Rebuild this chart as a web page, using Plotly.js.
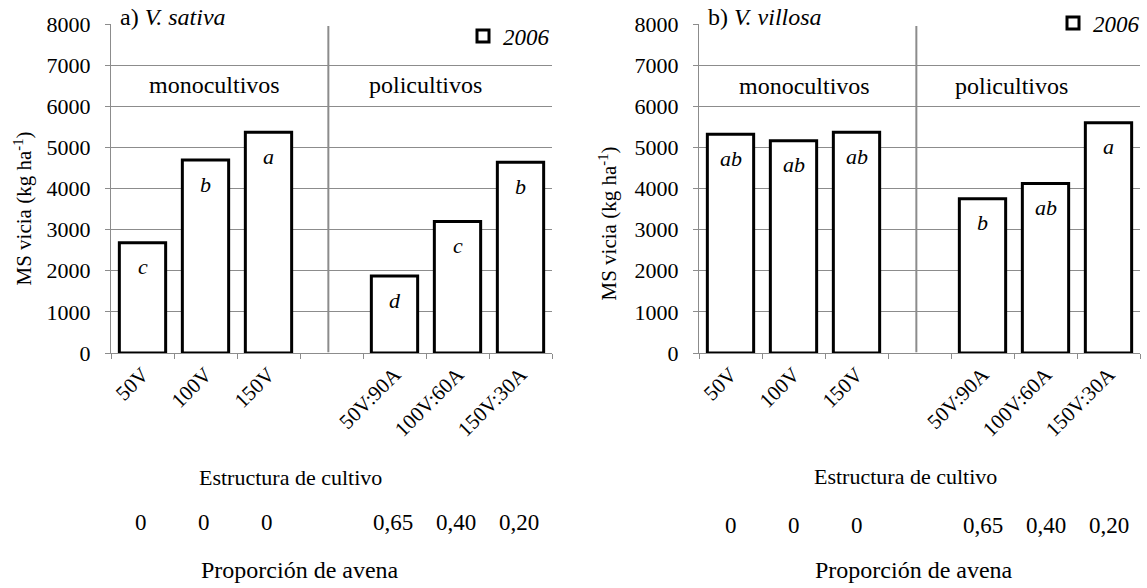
<!DOCTYPE html>
<html>
<head>
<meta charset="utf-8">
<script src="https://cdn.plot.ly/plotly-3.0.1.min.js"></script>
<style>
  html, body { margin: 0; padding: 0; background: #fff; }
  #chart { width: 1147px; height: 588px; }
</style>
</head>
<body>
<div id="chart"></div>
<script>
// Vetch dry matter (kg/ha) by crop structure, 2006
const categories = ['50V', '100V', '150V', ' ', '50V:90A', '100V:60A', '150V:30A'];
const sativaValues = [2680, 4690, 5370, null, 1870, 3200, 4640];
const villosaValues = [5320, 5160, 5370, null, 3750, 4120, 5600];
const sativaLetters = ['c', 'b', 'a', '', 'd', 'c', 'b'];
const villosaLetters = ['ab', 'ab', 'ab', '', 'b', 'ab', 'a'];
const oatShare = ['0', '0', '0', '', '0,65', '0,40', '0,20'];
const yearLabel = '2006';
const panelTitles = ['a) <i>V. sativa</i>', 'b) <i>V. villosa</i>'];
const groupLabels = ['monocultivos', 'policultivos'];
const yTitle = 'MS vicia (kg ha<sup>-1</sup>)';
const xTitle = 'Estructura de cultivo';
const shareTitle = 'Proporción de avena';

const W = 1147, H = 588;
const px = v => v / W;
const py = v => 1 - v / H;
const FONT = '"Times New Roman", "Liberation Serif", "DejaVu Serif", serif';
const GRAY = '#8c8c8c';

function barTrace(values, xa, ya, legendName) {
  return {
    type: 'bar',
    x: categories,
    y: values,
    xaxis: xa,
    yaxis: ya,
    name: '<i>' + yearLabel + '</i>',
    legend: legendName,
    width: 0.735,
    marker: { color: '#ffffff', line: { color: '#000000', width: 3 } },
    hoverinfo: 'x+y'
  };
}

function xAxis(domain, anchor) {
  return {
    domain: domain,
    anchor: anchor,
    type: 'category',
    categoryorder: 'array',
    categoryarray: categories,
    range: [-0.5, 6.5],
    showgrid: false,
    showline: true,
    linecolor: GRAY,
    linewidth: 1,
    ticks: 'outside',
    tickson: 'boundaries',
    ticklen: 5,
    tickcolor: GRAY,
    tickangle: -45,
    tickfont: { family: FONT, size: 21, color: '#000' },
    zeroline: false
  };
}

function yAxis(anchor) {
  return {
    domain: [py(353), py(24)],
    anchor: anchor,
    range: [0, 8000],
    dtick: 1000,
    showgrid: true,
    gridcolor: GRAY,
    gridwidth: 1,
    showline: true,
    linecolor: GRAY,
    linewidth: 1,
    ticks: 'outside',
    ticklen: 5,
    tickcolor: GRAY,
    ticklabelstandoff: 10,
    tickfont: { family: FONT, size: 22, color: '#000' },
    zeroline: false
  };
}

const annotations = [];
const txt = (text, x, y, size, extra) => Object.assign({
  text: text, xref: 'paper', yref: 'paper', x: x, y: y,
  xanchor: 'center', yanchor: 'middle',
  showarrow: false, font: { family: FONT, size: size, color: '#000' }
}, extra || {});

// panel geometry (pixel positions of labels)
const panels = [
  { xa: 'x', ya: 'y', letters: sativaLetters, values: sativaValues, title: panelTitles[0],
    axisX: 111, ytx: 22.5, yty: 209, mono: 214.5, poli: 425.5, groupY: 85,
    xt: 290, xtY: 477, shareY: 522, shareShift: -2, pt: 300, ptY: 570 },
  { xa: 'x2', ya: 'y2', letters: villosaLetters, values: villosaValues, title: panelTitles[1],
    axisX: 699, ytx: 607.5, yty: 224, mono: 804, poli: 1011, groupY: 86,
    xt: 905, xtY: 476, shareY: 525, shareShift: 0, pt: 914, ptY: 570 }
];

panels.forEach(p => {
  categories.forEach((c, i) => {
    if (p.values[i] == null) return;
    // significance letters inside bars
    annotations.push({
      xref: p.xa, yref: p.ya, x: c, y: p.values[i], yshift: -24,
      xanchor: 'center', yanchor: 'middle',
      text: '<i>' + p.letters[i] + '</i>', showarrow: false,
      font: { family: FONT, size: 22, color: '#000' }
    });
    // oat proportion row under the axis
    annotations.push({
      xref: p.xa, yref: 'paper', x: c, y: py(p.shareY), xshift: p.shareShift,
      xanchor: 'center', yanchor: 'middle',
      text: oatShare[i], showarrow: false,
      font: { family: FONT, size: 23, color: '#000' }
    });
  });
  // panel title sitting on the top gridline
  annotations.push(txt('&nbsp;' + p.title + '&nbsp;', px(p.axisX), py(17), 24,
    { xanchor: 'left', bgcolor: '#ffffff', borderpad: 2 }));
  annotations.push(txt(groupLabels[0], px(p.mono), py(p.groupY), 24));
  annotations.push(txt(groupLabels[1], px(p.poli), py(p.groupY), 24));
  annotations.push(txt(yTitle, px(p.ytx), py(p.yty), 21, { textangle: -90 }));
  annotations.push(txt(xTitle, px(p.xt), py(p.xtY), 22));
  annotations.push(txt(shareTitle, px(p.pt), py(p.ptY), 24));
});

// vertical divider between mono- and polyculture groups
const shapes = [
  { type: 'line', xref: 'x', yref: 'y', x0: 2.95, x1: 2.95, y0: 20, y1: 7950,
    line: { color: GRAY, width: 2 } },
  { type: 'line', xref: 'x2', yref: 'y2', x0: 2.95, x1: 2.95, y0: 20, y1: 7950,
    line: { color: GRAY, width: 2 } }
];

const legendStyle = {
  bgcolor: '#ffffff', borderwidth: 0, xanchor: 'left', yanchor: 'middle',
  font: { family: FONT, size: 23, color: '#000' }, itemclick: false, itemdoubleclick: false
};

const layout = {
  width: W, height: H,
  margin: { l: 0, r: 0, t: 0, b: 0 },
  paper_bgcolor: '#ffffff',
  plot_bgcolor: '#ffffff',
  font: { family: FONT },
  showlegend: true,
  legend: Object.assign({ x: px(463), y: py(36) }, legendStyle),
  legend2: Object.assign({ x: px(1053), y: py(23) }, legendStyle),
  xaxis: xAxis([px(111), px(552)], 'y'),
  yaxis: yAxis('x'),
  xaxis2: xAxis([px(699), px(1140)], 'y2'),
  yaxis2: yAxis('x2'),
  annotations: annotations,
  shapes: shapes
};

const data = [
  barTrace(sativaValues, 'x', 'y', 'legend'),
  barTrace(villosaValues, 'x2', 'y2', 'legend2')
];

Plotly.newPlot('chart', data, layout, { displayModeBar: false, staticPlot: true });
</script>
</body>
</html>
